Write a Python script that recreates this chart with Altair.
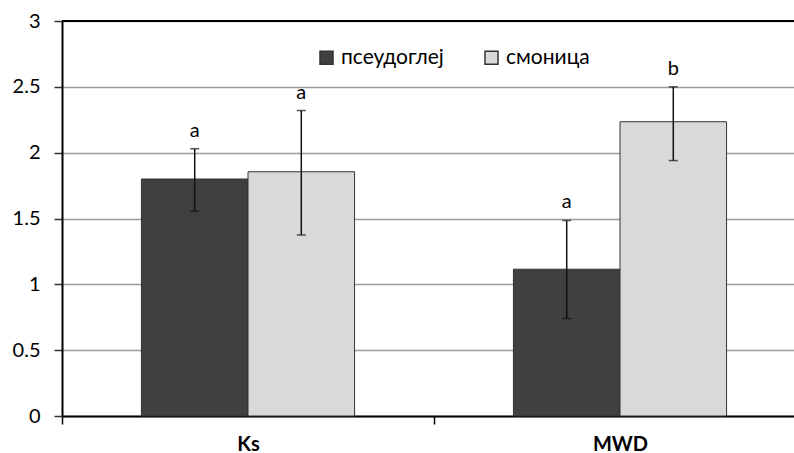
import altair as alt
import pandas as pd

# Soil properties and the two soil types compared
categories = ["Ks", "MWD"]
series = ["псеудоглеј", "смоница"]
series_colors = ["#404040", "#d9d9d9"]

# Mean values, error-bar limits and significance letters (rows follow categories x series)
means = [1.80, 1.855, 1.115, 2.235]
err_low = [1.555, 1.375, 0.74, 1.94]
err_high = [2.03, 2.32, 1.485, 2.50]
letters = ["a", "a", "a", "b"]

y_ticks = [0, 0.5, 1, 1.5, 2, 2.5, 3]

rows = []
i = 0
for c in categories:
    for s in series:
        rows.append({"cat": c, "series": s, "mean": means[i],
                     "lo": err_low[i], "hi": err_high[i], "letter": letters[i]})
        i += 1
df = pd.DataFrame(rows)

FONT = "Lato"
STEP = 372
P_IN = 0.427

x_enc = alt.X(
    "cat:N",
    sort=categories,
    title=None,
    scale=alt.Scale(range=[0, 2 * STEP], paddingInner=P_IN, paddingOuter=P_IN / 2),
    axis=alt.Axis(
        labelAngle=0,
        labelFont=FONT,
        labelFontSize=20,
        labelFontWeight="bold",
        labelColor="#000000",
        labelPadding=10,
        labelOffset=STEP / 2,
        domainColor="#000000",
        domainWidth=2,
        ticks=True,
        tickColor="#000000",
        tickWidth=1.5,
        tickSize=8,
        tickOffset=-STEP / 2,
        grid=False,
    ),
)
xoff = alt.XOffset("series:N", sort=series)
y_scale = alt.Scale(domain=[0, 3], nice=False)

base = alt.Chart(df)

bars = base.mark_bar(stroke="#333333", strokeWidth=1).encode(
    x=x_enc,
    xOffset=xoff,
    y=alt.Y(
        "mean:Q",
        scale=y_scale,
        title=None,
        axis=alt.Axis(
            values=y_ticks,
            format=".1~f",
            labelFont=FONT,
            labelFontSize=20,
            labelColor="#000000",
            labelPadding=14,
            domainColor="#000000",
            domainWidth=2,
            tickColor="#333333",
            tickWidth=1.5,
            tickSize=8,
            gridColor="#9c9c9c",
            gridWidth=1.5,
        ),
    ),
    color=alt.Color(
        "series:N",
        sort=series,
        scale=alt.Scale(domain=series, range=series_colors),
        legend=alt.Legend(
            title=None,
            orient="none",
            legendX=254,
            legendY=26,
            direction="horizontal",
            columns=2,
            padding=0,
            columnPadding=37,
            symbolType="square",
            symbolSize=169,
            symbolStrokeColor="#333333",
            symbolStrokeWidth=1.5,
            symbolOffset=0,
            labelOffset=4,
            labelFont=FONT,
            labelFontSize=21,
            labelColor="#000000",
        ),
    ),
)

whisker = base.mark_rule(color="#111111", strokeWidth=1.5).encode(
    x=x_enc, xOffset=xoff, y=alt.Y("lo:Q", scale=y_scale), y2="hi:Q"
)
cap_lo = base.mark_tick(color="#111111", thickness=1.5, size=9).encode(
    x=x_enc, xOffset=xoff, y=alt.Y("lo:Q", scale=y_scale)
)
cap_hi = base.mark_tick(color="#111111", thickness=1.5, size=9).encode(
    x=x_enc, xOffset=xoff, y=alt.Y("hi:Q", scale=y_scale)
)
labels = base.mark_text(
    font=FONT, fontSize=20, color="#000000", baseline="alphabetic", dy=-12
).encode(x=x_enc, xOffset=xoff, y=alt.Y("hi:Q", scale=y_scale), text="letter:N")

top_border = alt.Chart(pd.DataFrame({"top": [3]})).mark_rule(
    color="#000000", strokeWidth=2
).encode(y=alt.Y("top:Q", scale=y_scale))

chart = (
    alt.layer(bars, whisker, cap_lo, cap_hi, labels, top_border)
    .properties(
        width=732,
        height=395,
        autosize=alt.AutoSizeParams(type="none"),
        padding={"left": 62, "top": 21, "right": 0, "bottom": 37},
        background="#ffffff",
    )
    .configure_view(stroke="transparent")
)

chart.save("out.html", embed_options={"renderer": "svg", "actions": False})
